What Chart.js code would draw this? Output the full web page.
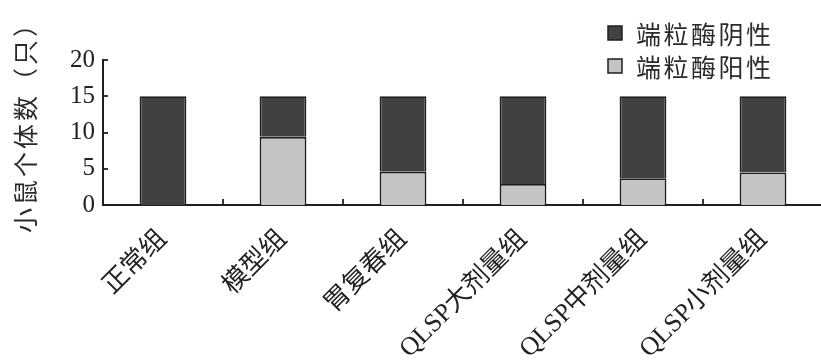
<!DOCTYPE html>
<html lang="zh-CN">
<head>
<meta charset="utf-8">
<title>小鼠端粒酶检测结果</title>
<script src="https://cdn.jsdelivr.net/npm/chart.js@4.4.1/dist/chart.umd.min.js"></script>
<style>
  html, body { margin: 0; padding: 0; background: #fff; overflow: hidden; }
  #wrap { position: relative; width: 826px; height: 361px; }
</style>
</head>
<body>
<div id="wrap"><canvas id="chart"></canvas></div>
<script>
// Groups along the x axis
const categories = ['正常组', '模型组', '胃复春组', 'QLSP大剂量组', 'QLSP中剂量组', 'QLSP小剂量组'];
// Number of mice per group (stacked: positive at bottom, negative on top)
const positiveCounts = [0, 9.4, 4.6, 2.9, 3.7, 4.5];
const negativeCounts = [15, 5.6, 10.4, 12.1, 11.3, 10.5];
// Series names
const seriesNegative = '端粒酶阴性';
const seriesPositive = '端粒酶阳性';
// Y axis
const yTitle = '小鼠个体数（只）';
const yMin = 0, yMax = 20, yStep = 5;

const INK = '#1e1e1e';
const DARK = '#414141';
const LIGHT = '#c4c4c4';
const CJK = '"Noto Sans CJK SC"';
const SERIF = '"Liberation Serif", "Noto Sans CJK SC"';

// Inward tick marks, rotated y title and a two-row legend box
const decorations = {
  id: 'decorations',
  afterDraw(chart) {
    const { ctx, chartArea, scales } = chart;
    const x = scales.x, y = scales.y;
    ctx.save();
    ctx.strokeStyle = INK;
    ctx.lineWidth = 1.8;
    // y ticks pointing right
    for (let v = yMin; v <= yMax; v += yStep) {
      const py = Math.round(y.getPixelForValue(v));
      ctx.beginPath();
      ctx.moveTo(chartArea.left, py);
      ctx.lineTo(chartArea.left + 5, py);
      ctx.stroke();
    }
    // x ticks pointing up at category boundaries
    const n = categories.length;
    for (let i = 0; i < n; i++) {
      const a = x.getPixelForValue(i);
      const b = i < n - 1 ? x.getPixelForValue(i + 1) : a + (a - x.getPixelForValue(i - 1));
      const px = Math.round((a + b) / 2);
      ctx.beginPath();
      ctx.moveTo(px, chartArea.bottom);
      ctx.lineTo(px, chartArea.bottom - 6);
      ctx.stroke();
    }
    // y axis title
    ctx.fillStyle = '#2a2a2a';
    ctx.font = '25px ' + CJK;
    ctx.letterSpacing = '3px';
    ctx.textAlign = 'center';
    ctx.textBaseline = 'middle';
    ctx.translate(25, 121);
    ctx.rotate(-Math.PI / 2);
    ctx.fillText(yTitle, 0, 0);
    ctx.restore();

    // legend
    ctx.save();
    const items = [
      { label: chart.data.datasets[1].label, color: chart.data.datasets[1].backgroundColor },
      { label: chart.data.datasets[0].label, color: chart.data.datasets[0].backgroundColor }
    ];
    ctx.font = '25px ' + CJK;
    ctx.letterSpacing = '2.5px';
    ctx.textAlign = 'left';
    ctx.textBaseline = 'middle';
    items.forEach((it, k) => {
      const cy = 33 + k * 33;
      ctx.fillStyle = it.color;
      ctx.fillRect(608, cy - 7, 14, 14);
      ctx.strokeStyle = INK;
      ctx.lineWidth = 1.5;
      ctx.strokeRect(608, cy - 7, 14, 14);
      ctx.fillStyle = '#2a2a2a';
      ctx.fillText(it.label, 636, cy + 1);
    });
    ctx.restore();
  }
};

new Chart(document.getElementById('chart'), {
  type: 'bar',
  data: {
    labels: categories,
    datasets: [
      {
        label: seriesPositive,
        data: positiveCounts,
        backgroundColor: LIGHT,
        borderColor: INK,
        borderWidth: 1.8,
        categoryPercentage: 1,
        barPercentage: 0.39
      },
      {
        label: seriesNegative,
        data: negativeCounts,
        backgroundColor: DARK,
        borderColor: INK,
        borderWidth: 1.8,
        categoryPercentage: 1,
        barPercentage: 0.39
      }
    ]
  },
  options: {
    responsive: true,
    maintainAspectRatio: false,
    animation: false,
    layout: { padding: { top: 60, right: 3, bottom: 0, left: 0 } },
    plugins: {
      legend: { display: false },
      tooltip: { enabled: false }
    },
    scales: {
      x: {
        stacked: true,
        grid: { display: false, drawTicks: false },
        border: { display: true, color: INK, width: 2 },
        ticks: {
          autoSkip: false,
          minRotation: 45,
          maxRotation: 45,
          padding: 19,
          color: '#222',
          font: { family: SERIF, size: 26 }
        },
        afterFit(scale) { scale.height = 156; }
      },
      y: {
        stacked: true,
        min: yMin,
        max: yMax,
        grid: { display: false, drawTicks: false },
        border: { display: true, color: INK, width: 2 },
        ticks: {
          stepSize: yStep,
          padding: 8,
          color: '#222',
          font: { family: SERIF, size: 25 }
        },
        afterFit(scale) { scale.width = 103; }
      }
    }
  },
  plugins: [decorations]
});
</script>
</body>
</html>
